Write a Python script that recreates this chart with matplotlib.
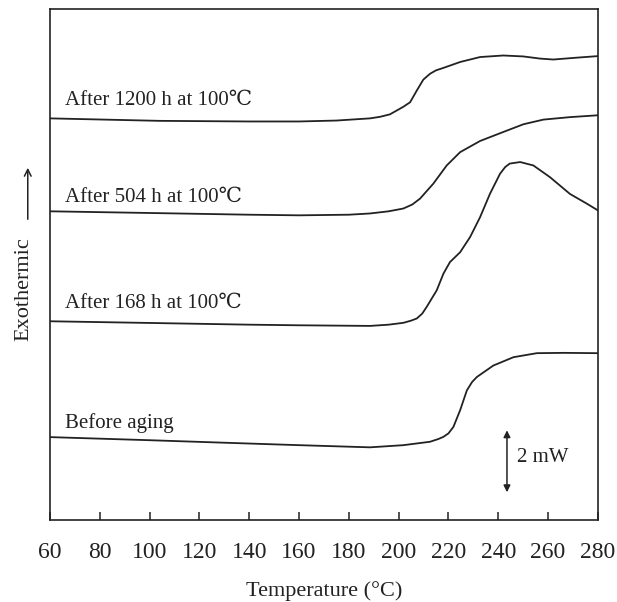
import matplotlib
matplotlib.use("Agg")
import matplotlib.pyplot as plt
import numpy as np

plt.rcParams["font.family"] = ["Liberation Serif", "DejaVu Serif"]

# DSC traces: temperature (°C) and heat flow (mW) relative to each trace's start
t_1200 = [60, 104, 140, 160, 175, 188.5, 192.5, 196.5, 201.8, 204.6, 207.3, 209.9, 212.6, 215, 218, 224.7, 232.7, 242, 250, 256.8, 262.1, 271.5, 280]
q_1200 = [0, -0.08, -0.10, -0.10, -0.07, 0, 0.05, 0.13, 0.37, 0.52, 0.90, 1.25, 1.44, 1.55, 1.63, 1.82, 1.98, 2.03, 2.00, 1.93, 1.90, 1.96, 2.01]

t_504 = [60, 104, 140, 160, 180, 188.5, 196, 201.9, 205.5, 208.6, 213.9, 219.3, 224.7, 232.7, 242, 250.1, 258.1, 268.8, 280]
q_504 = [0, -0.06, -0.11, -0.13, -0.11, -0.07, 0.0, 0.09, 0.22, 0.41, 0.89, 1.48, 1.91, 2.27, 2.56, 2.81, 2.96, 3.04, 3.10]

t_168 = [60, 104, 140, 160, 188.5, 196, 201.9, 205, 207.3, 209.5, 211.3, 215.3, 218, 220.6, 224.7, 228.7, 232.7, 236.7, 240.7, 242.8, 244.6, 248.8, 254.1, 260.8, 268.8, 275.5, 280]
q_168 = [0, -0.06, -0.11, -0.13, -0.15, -0.11, -0.05, 0.02, 0.09, 0.25, 0.47, 1.00, 1.54, 1.91, 2.23, 2.72, 3.36, 4.12, 4.76, 4.98, 5.09, 5.14, 5.03, 4.65, 4.11, 3.80, 3.58]

t_before = [60, 100, 133.5, 160, 188.5, 201.9, 212.6, 216, 218, 220, 222, 224.7, 227.4, 229.5, 231.4, 238, 246.1, 255.5, 266.2, 280]
q_before = [0, -0.10, -0.19, -0.26, -0.33, -0.26, -0.15, -0.06, 0.01, 0.12, 0.33, 0.87, 1.51, 1.78, 1.94, 2.31, 2.58, 2.71, 2.72, 2.71]

# vertical offsets (mW) used to stack the traces
offsets = [12.97, 9.97, 6.42, 2.68]
labels = ["After 1200 h at 100\u2103", "After 504 h at 100\u2103",
          "After 168 h at 100\u2103", "Before aging"]
label_y = [13.55, 10.42, 7.0, 3.13]

x_ticks = list(range(60, 281, 20))

fig = plt.figure(figsize=(6.17, 6.02), dpi=100)
ax = fig.add_axes([0.081, 0.136, 0.888, 0.849])

traces = [(t_1200, q_1200), (t_504, q_504), (t_168, q_168), (t_before, q_before)]
for (t, q), off in zip(traces, offsets):
    ax.plot(t, np.array(q) + off, color="#222222", lw=1.3,
            solid_joinstyle="round", solid_capstyle="round")

for lab, ly in zip(labels, label_y):
    ax.text(66, ly, lab, fontsize=15, va="center", ha="left", color="#222222")

# 2 mW scale bar
ax.annotate("", xy=(243.5, 0.9), xytext=(243.5, 2.9),
            arrowprops=dict(arrowstyle="<|-|>", color="#222222", lw=1.1,
                            mutation_scale=10, shrinkA=0, shrinkB=0))
ax.text(247.5, 2.03, "2 mW", fontsize=15, va="center", ha="left", color="#222222")

ax.set_xlim(60, 280)
ax.set_ylim(0, 16.5)
ax.set_xticks(x_ticks)
ax.set_xticklabels([str(v) for v in x_ticks], fontsize=17)
ax.set_yticks([])
ax.tick_params(axis="x", direction="in", length=6, width=1.1, pad=16, colors="#222222")
for s in ax.spines.values():
    s.set_linewidth(1.2)
    s.set_color("#222222")

ax.set_xlabel("Temperature (\u00b0C)", fontsize=16, labelpad=13, color="#222222")

# y-axis caption with upward arrow
fig.text(0.038, 0.52, "Exothermic", rotation=90, fontsize=16, ha="center", va="center", color="#222222")
fig.add_artist(matplotlib.patches.FancyArrowPatch(
    (0.045, 1 - 222 / 602), (0.045, 1 - 165 / 602), transform=fig.transFigure,
    arrowstyle="->", mutation_scale=12, lw=1.1, color="#222222"))

fig.savefig("out.png", dpi=100)
